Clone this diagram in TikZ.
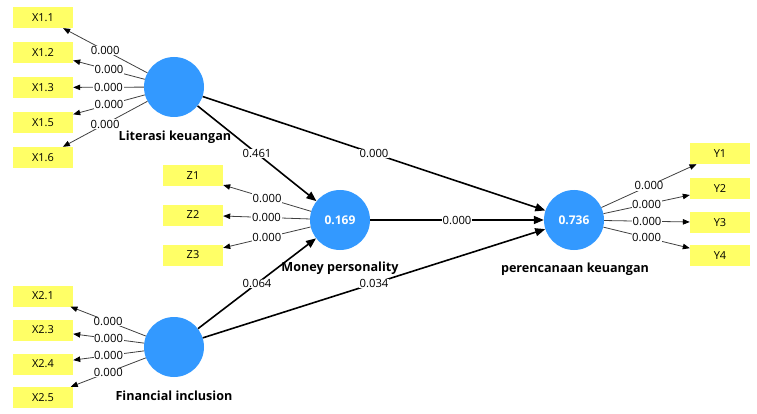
\documentclass[tikz,border=0pt]{standalone}
\usepackage{fontspec}
\setmainfont{Open Sans}
\usetikzlibrary{arrows.meta}
\definecolor{lvblue}{RGB}{51,153,255}
\definecolor{indyellow}{RGB}{255,255,102}

\begin{document}
\begin{tikzpicture}[x=1pt,y=-1pt]
\tikzstyle{lv}=[circle, fill=lvblue, minimum size=60pt, inner sep=0pt,
                        text=white, font=\bfseries\fontsize{12}{14}\selectfont]
\tikzstyle{ind}=[rectangle, fill=indyellow, minimum width=60pt, minimum height=21pt,
                        inner sep=0pt, font=\fontsize{11}{13}\selectfont]
\tikzstyle{lab}=[font=\bfseries\fontsize{12.6}{14}\selectfont]
\tikzstyle{val}=[fill=white, inner sep=0.6pt, font=\fontsize{11.3}{13}\selectfont]
\tikzstyle{load}=[draw=black!75, line width=0.8pt, -{Triangle[length=7pt,width=5.5pt,color=black]}]
\tikzstyle{strc}=[draw=black, line width=1.6pt, -{Triangle[length=10pt,width=8pt]}]
\useasboundingbox (0,0) rectangle (757,414);
	% latent variables
	\node[lv] (LK) at (174,87){};
	\node[lv] (MP) at (340,220){0.169};
	\node[lv] (FI) at (174,347){};
	\node[lv] (PK) at (574,220){0.736};
	% indicators
	\node[ind] (X11) at (43,17.5){X1.1};
	\node[ind] (X12) at (43,52.5){X1.2};
	\node[ind] (X13) at (43,87.5){X1.3};
	\node[ind] (X15) at (43,122.5){X1.5};
	\node[ind] (X16) at (43,157.5){X1.6};
	\node[ind] (Z1) at (193,176){Z1};
	\node[ind] (Z2) at (193,215){Z2};
	\node[ind] (Z3) at (193,255){Z3};
	\node[ind] (X21) at (43,296){X2.1};
	\node[ind] (X23) at (43,330){X2.3};
	\node[ind] (X24) at (43,364){X2.4};
	\node[ind] (X25) at (43,397.5){X2.5};
	\node[ind] (Y1) at (720,153.5){Y1};
	\node[ind] (Y2) at (720,188.5){Y2};
	\node[ind] (Y3) at (720,222.5){Y3};
	\node[ind] (Y4) at (720,255.5){Y4};
\draw[load] (LK) -- node[val]{0.000} (X11);
\draw[load] (LK) -- node[val]{0.000} (X12);
\draw[load] (LK) -- node[val]{0.000} (X13);
\draw[load] (LK) -- node[val]{0.000} (X15);
\draw[load] (LK) -- node[val]{0.000} (X16);
\draw[load] (MP) -- node[val]{0.000} (Z1);
\draw[load] (MP) -- node[val]{0.000} (Z2);
\draw[load] (MP) -- node[val]{0.000} (Z3);
\draw[load] (FI) -- node[val]{0.000} (X21);
\draw[load] (FI) -- node[val]{0.000} (X23);
\draw[load] (FI) -- node[val]{0.000} (X24);
\draw[load] (FI) -- node[val]{0.000} (X25);
\draw[load] (PK) -- node[val]{0.000} (Y1);
\draw[load] (PK) -- node[val]{0.000} (Y2);
\draw[load] (PK) -- node[val]{0.000} (Y3);
\draw[load] (PK) -- node[val]{0.000} (Y4);
% paths between constructs
\draw[strc] (LK) -- node[val]{0.461} (MP);
\draw[strc] (LK) -- node[val]{0.000} (PK);
\draw[strc] (MP) -- node[val]{0.000} (PK);
\draw[strc] (FI) -- node[val]{0.064} (MP);
\draw[strc] (FI) -- node[val]{0.034} (PK);
	\node[lab] (LKlab) at (175,137){Literasi keuangan};
	\node[lab] (MPlab) at (340,268){Money personality};
	\node[lab] (FIlab) at (174,396){Financial inclusion};
	\node[lab] (PKlab) at (575,269){perencanaan keuangan};
\end{tikzpicture}
\end{document}
